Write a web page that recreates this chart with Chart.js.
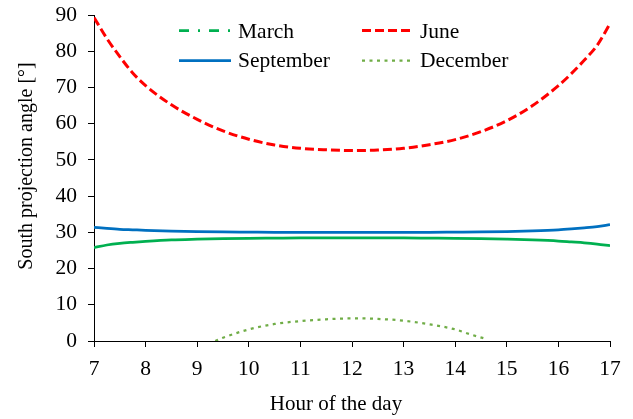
<!DOCTYPE html>
<html>
<head>
<meta charset="utf-8">
<script src="https://cdn.jsdelivr.net/npm/chart.js@4.4.0/dist/chart.umd.min.js"></script>
<style>
  html, body { margin: 0; padding: 0; background: #ffffff; }
  #wrap { width: 633px; height: 419px; }
</style>
</head>
<body>
<div id="wrap"><canvas id="c" width="633" height="419"></canvas></div>
<script>
// Hours of the day at which the projection angle is given
const hours = [7, 7.25, 7.5, 7.75, 8, 8.5, 9, 9.5, 10, 10.5, 11, 11.5, 12, 12.5, 13, 13.5, 14, 14.5, 15, 15.5, 16, 16.25, 16.5, 16.75, 17];

// South projection angle [°] per month
const march     = [25.8, 26.5, 26.95, 27.25, 27.5, 27.9, 28.1, 28.25, 28.35, 28.4, 28.45, 28.45, 28.45, 28.45, 28.45, 28.4, 28.35, 28.25, 28.1, 27.9, 27.6, 27.35, 27.1, 26.75, 26.3];
const june      = [89.3, 83.5, 78.5, 74.0, 70.5, 65.2, 61.2, 58.0, 55.7, 54.1, 53.2, 52.8, 52.6, 52.7, 53.2, 54.2, 55.6, 57.8, 60.8, 65.0, 70.5, 73.8, 77.5, 81.6, 87.6];
const september = [31.4, 31.1, 30.85, 30.7, 30.55, 30.35, 30.2, 30.1, 30.05, 30.0, 30.0, 30.0, 30.0, 30.0, 30.0, 30.0, 30.05, 30.1, 30.2, 30.4, 30.7, 30.95, 31.25, 31.6, 32.1];

// December: sun only gives a positive angle around midday
const decemberHours = [9.35, 9.5, 10, 10.5, 11, 11.5, 12, 12.5, 13, 13.5, 14, 14.3, 14.62];
const december      = [0, 0.9, 3.2, 4.7, 5.5, 6.0, 6.25, 6.1, 5.6, 4.6, 3.2, 1.8, 0.5];

// Axis ticks
const xTicks = [7, 8, 9, 10, 11, 12, 13, 14, 15, 16, 17];
const yTicks = [0, 10, 20, 30, 40, 50, 60, 70, 80, 90];

const seriesNames = ['March', 'June', 'September', 'December'];
const xTitle = 'Hour of the day';
const yTitle = 'South projection angle [°]';

const FONT = '"Liberation Serif", "Times New Roman", Times, serif';
const TICK_SIZE = 21.5;
const LEGEND_SIZE = 21.5;
const X_TITLE_SIZE = 21;
const Y_TITLE_SIZE = 20;

const pairs = (xs, ys) => xs.map((x, i) => ({ x: x, y: ys[i] }));

// Two-column legend drawn inside the plot, plus axis titles
const decorations = {
  id: 'decorations',
  afterDraw(chart) {
    const ctx = chart.ctx;
    const area = chart.chartArea;
    ctx.save();
    ctx.fillStyle = '#000000';

    // legend
    ctx.font = LEGEND_SIZE + 'px ' + FONT;
    const colLine = [area.left + 85, area.left + 268];
    const colText = [area.left + 144, area.left + 326];
    const rowLine = [area.top + 15.5, area.top + 45.5];
    const rowBase = [area.top + 22.5, area.top + 52];
    chart.data.datasets.forEach((ds, i) => {
      const col = i % 2, row = Math.floor(i / 2);
      ctx.save();
      ctx.strokeStyle = ds.borderColor;
      ctx.lineWidth = ds.borderWidth;
      ctx.setLineDash(ds.legendDash || []);
      ctx.beginPath();
      ctx.moveTo(colLine[col], rowLine[row]);
      ctx.lineTo(colLine[col] + 52, rowLine[row]);
      ctx.stroke();
      ctx.restore();
      ctx.textAlign = 'left';
      ctx.textBaseline = 'alphabetic';
      ctx.fillText(ds.label, colText[col], rowBase[row]);
    });

    // x axis title
    ctx.font = X_TITLE_SIZE + 'px ' + FONT;
    ctx.textAlign = 'center';
    ctx.textBaseline = 'alphabetic';
    ctx.fillText(xTitle, area.left + 242, area.bottom + 69);

    // y axis title
    ctx.font = Y_TITLE_SIZE + 'px ' + FONT;
    ctx.save();
    ctx.translate(area.left - 62, area.top + 151);
    ctx.rotate(-Math.PI / 2);
    ctx.fillText(yTitle, 0, 0);
    ctx.restore();

    ctx.restore();
  }
};

const axisCommon = {
  border: { display: true, color: '#000000', width: 1 },
  grid: {
    display: true,
    drawOnChartArea: false,
    drawTicks: true,
    tickLength: 6,
    tickColor: '#000000',
    tickWidth: 1
  }
};

new Chart(document.getElementById('c'), {
  type: 'line',
  data: {
    datasets: [
      {
        label: seriesNames[0],
        data: pairs(hours, march),
        borderColor: '#00B050',
        borderWidth: 2.75,
        legendDash: [10, 9, 2, 9],
        cubicInterpolationMode: 'monotone'
      },
      {
        label: seriesNames[1],
        data: pairs(hours, june),
        borderColor: '#FF0000',
        borderWidth: 3,
        borderDash: [9, 4],
        legendDash: [9, 4],
        cubicInterpolationMode: 'monotone'
      },
      {
        label: seriesNames[2],
        data: pairs(hours, september),
        borderColor: '#0070C0',
        borderWidth: 2.75,
        legendDash: [],
        cubicInterpolationMode: 'monotone'
      },
      {
        label: seriesNames[3],
        data: pairs(decemberHours, december),
        borderColor: '#70AD47',
        borderWidth: 2.25,
        borderDash: [3, 4.5],
        legendDash: [3, 4.5],
        cubicInterpolationMode: 'monotone'
      }
    ]
  },
  options: {
    responsive: false,
    animation: false,
    devicePixelRatio: 1,
    elements: { point: { radius: 0, hoverRadius: 0 } },
    layout: { padding: { top: 15, right: 23, left: 0, bottom: 0 } },
    plugins: {
      legend: { display: false },
      tooltip: { enabled: false }
    },
    scales: {
      x: Object.assign({}, axisCommon, {
        type: 'linear',
        min: xTicks[0],
        max: xTicks[xTicks.length - 1],
        afterBuildTicks: (scale) => { scale.ticks = xTicks.map(v => ({ value: v })); },
        afterFit: (scale) => {
          scale.height = 78;
          scale.paddingLeft = 0;
          scale.paddingRight = 0;
        },
        ticks: {
          color: '#000000',
          font: { family: FONT, size: TICK_SIZE },
          padding: 9,
          maxRotation: 0,
          autoSkip: false
        }
      }),
      y: Object.assign({}, axisCommon, {
        type: 'linear',
        min: yTicks[0],
        max: yTicks[yTicks.length - 1],
        afterBuildTicks: (scale) => { scale.ticks = yTicks.map(v => ({ value: v })); },
        afterFit: (scale) => {
          scale.width = 94;
          scale.paddingTop = 0;
          scale.paddingBottom = 0;
        },
        ticks: {
          color: '#000000',
          font: { family: FONT, size: TICK_SIZE },
          padding: 11
        }
      })
    }
  },
  plugins: [decorations]
});
</script>
</body>
</html>
